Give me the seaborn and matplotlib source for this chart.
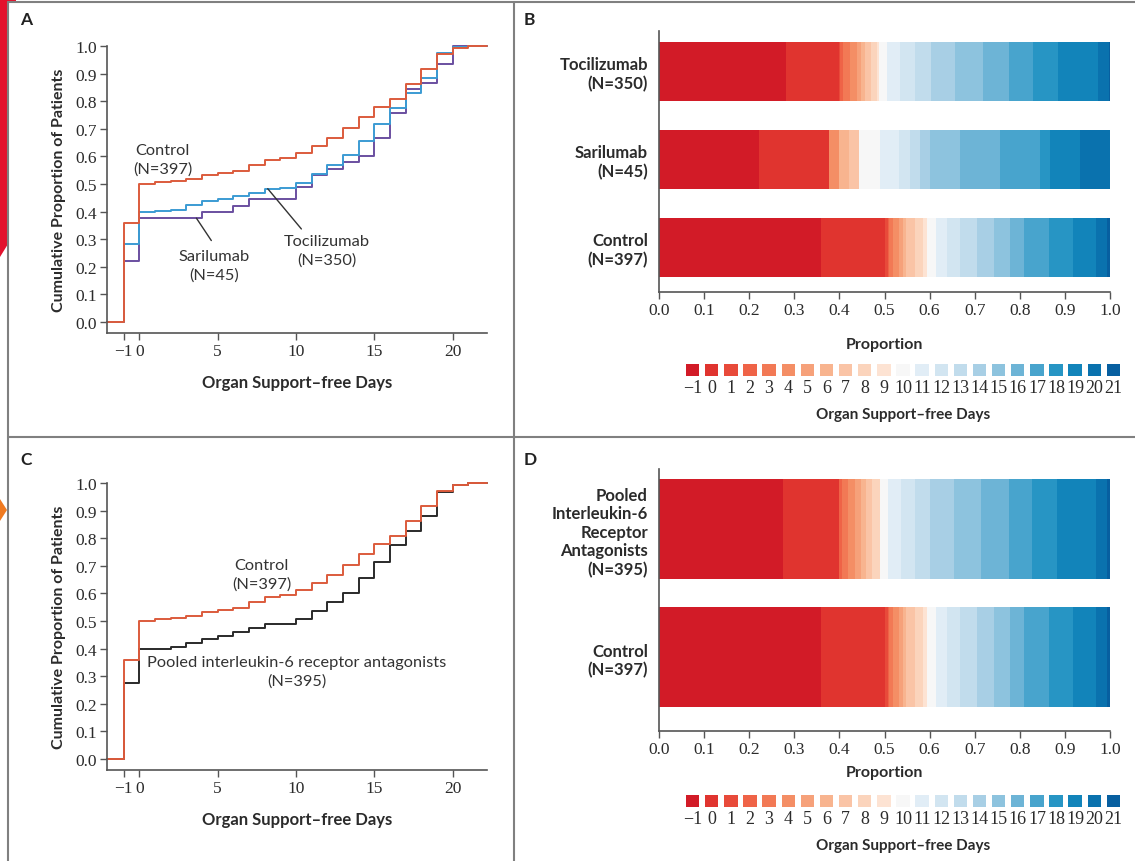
import numpy as np
import pandas as pd
import matplotlib
matplotlib.use("Agg")
import matplotlib.pyplot as plt
import seaborn as sns
from matplotlib.patches import Polygon
from matplotlib.lines import Line2D

# ---------------- data ----------------
days = list(range(-1, 22))
day_labels = ["\u22121"] + [str(d) for d in range(0, 22)]

cum_control = [0.360, 0.501, 0.507, 0.511, 0.518, 0.533, 0.541, 0.547, 0.568, 0.586, 0.595,
               0.614, 0.638, 0.668, 0.704, 0.743, 0.779, 0.809, 0.864, 0.918, 0.970, 0.994, 1.0]
cum_tocilizumab = [0.281, 0.399, 0.401, 0.407, 0.423, 0.438, 0.447, 0.457, 0.469, 0.483, 0.487,
                   0.505, 0.535, 0.568, 0.604, 0.656, 0.719, 0.777, 0.830, 0.885, 0.973, 0.997, 1.0]
cum_sarilumab = [0.222, 0.378, 0.378, 0.378, 0.378, 0.400, 0.400, 0.422, 0.444, 0.444, 0.444,
                 0.489, 0.533, 0.556, 0.578, 0.600, 0.667, 0.756, 0.844, 0.867, 0.933, 1.0, 1.0]
cum_pooled = [0.274, 0.399, 0.400, 0.405, 0.420, 0.435, 0.447, 0.459, 0.473, 0.489, 0.490,
              0.507, 0.537, 0.568, 0.601, 0.655, 0.715, 0.775, 0.827, 0.882, 0.969, 0.993, 1.0]

groups_b = ["Tocilizumab\n(N=350)", "Sarilumab\n(N=45)", "Control\n(N=397)"]
groups_d = ["Pooled\nInterleukin-6\nReceptor\nAntagonists\n(N=395)", "Control\n(N=397)"]

# index 0 -> day -1 ... index 22 -> day 21
day_colors = ["#d21b27", "#e0342f", "#e84a3a", "#ef6347", "#f27955", "#f48e65", "#f6a17a",
              "#f8b48f", "#fac4a6", "#fbd4bc", "#fde3d3", "#f7f7f7", "#e1edf6", "#d2e5f1",
              "#c1dcec", "#a8cfe5", "#8dc3de", "#6db4d6", "#48a4cd", "#2795c4", "#1284ba",
              "#0a72ae", "#075fa0"]

col_control = "#dc5b3c"
col_toci = "#3b9bd3"
col_sari = "#6a4fa0"
col_pooled = "#2a2a2a"

# ---------------- style ----------------
sns.set_theme(style="white")
plt.rcParams["font.family"] = ["Lato", "DejaVu Sans"]
TICKFONT = ["Liberation Serif", "DejaVu Serif"]
TXT = "#2b2b2b"
SPINE = "#555555"

W, H = 1135, 862
fig = plt.figure(figsize=(W / 100, H / 100), dpi=100)
fig.patch.set_facecolor("white")


def px_axes(l, t, r, b):
    return fig.add_axes([l / W, 1 - b / H, (r - l) / W, (b - t) / H])


def style_ticks(ax, size=12.5):
    for lab in ax.get_xticklabels() + ax.get_yticklabels():
        lab.set_fontfamily(TICKFONT)
        lab.set_fontsize(size)
        lab.set_color(TXT)


XLIM = (-2.06, 22.2)


def curve_panel(ax, series, annotations):
    for cum, col in series:
        xs = [XLIM[0]] + days + [XLIM[1]]
        ys = [0.0] + cum + [cum[-1]]
        sns.lineplot(x=xs, y=ys, drawstyle="steps-post", color=col, linewidth=1.4,
                     ax=ax, errorbar=None, clip_on=False)
    ax.set_xlim(*XLIM)
    ax.set_ylim(-0.04, 1.0)
    ax.set_xticks([-1, 0, 5, 10, 15, 20])
    ax.set_xticklabels(["\u22121", "0", "5", "10", "15", "20"])
    ax.set_yticks(np.arange(0, 1.01, 0.1))
    ax.set_yticklabels([f"{v:.1f}" for v in np.arange(0, 1.01, 0.1)])
    for s in ["top", "right"]:
        ax.spines[s].set_visible(False)
    for s in ["left", "bottom"]:
        ax.spines[s].set_color(SPINE)
        ax.spines[s].set_linewidth(1.2)
    ax.tick_params(axis="both", direction="out", length=5, width=1.0, color=SPINE,
                   left=True, bottom=True, pad=2)
    style_ticks(ax)
    ax.set_xlabel("Organ Support\u2013free Days", fontsize=12, fontweight="bold",
                  color=TXT, labelpad=11)
    ax.set_ylabel("Cumulative Proportion of Patients", fontsize=11.5, fontweight="bold",
                  color=TXT, labelpad=7)
    for txt, x, y, line in annotations:
        ax.text(x, y, txt, ha="center", va="center", fontsize=11.8, color="#333333",
                linespacing=1.4)
        if line is not None:
            ax.plot(line[0], line[1], color="#333333", linewidth=1.0)


def bar_panel(ax, groups, cums, bar_h, ylim, xpad):
    for k in range(len(days) - 1, -1, -1):
        df = pd.DataFrame({"group": groups, "cum": [c[k] for c in cums]})
        sns.barplot(data=df, x="cum", y="group", color=day_colors[k], saturation=1,
                    width=bar_h, linewidth=0, ax=ax, orient="y", errorbar=None)
    ax.set_xlim(0, 1)
    ax.set_ylim(*ylim)
    ax.set_xticks(np.arange(0, 1.01, 0.1))
    ax.set_xticklabels([f"{v:.1f}" for v in np.arange(0, 1.01, 0.1)])
    for s in ["top", "right"]:
        ax.spines[s].set_visible(False)
    for s in ["left", "bottom"]:
        ax.spines[s].set_color(SPINE)
        ax.spines[s].set_linewidth(1.2)
    ax.tick_params(axis="x", direction="out", length=5, width=1.0, color=SPINE,
                   bottom=True, pad=2)
    ax.tick_params(axis="y", length=0, pad=8)
    style_ticks(ax)
    for lab in ax.get_yticklabels():
        lab.set_fontfamily(["Lato", "DejaVu Sans"])
        lab.set_fontweight("bold")
        lab.set_fontsize(12)
        lab.set_ha("right")
        lab.set_multialignment("right")
        lab.set_linespacing(1.2)
    ax.set_ylabel("")
    ax.set_xlabel("Proportion", fontsize=11.5, fontweight="bold", color=TXT, labelpad=xpad)


def legend_panel(ax):
    df = pd.DataFrame({"day": day_labels, "v": [1] * len(day_labels)})
    sns.barplot(data=df, x="day", y="v", hue="day", palette=day_colors, legend=False,
                saturation=1, width=0.7, linewidth=0, ax=ax, errorbar=None)
    ax.set_xlim(-0.5, len(day_labels) - 0.5)
    ax.set_ylim(0, 1)
    ax.set_yticks([])
    ax.set_ylabel("")
    for s in ax.spines.values():
        s.set_visible(False)
    ax.tick_params(axis="x", length=0, pad=2)
    for lab in ax.get_xticklabels():
        lab.set_fontfamily(TICKFONT)
        lab.set_fontsize(13)
        lab.set_color(TXT)
    ax.set_xlabel("Organ Support\u2013free Days", fontsize=11, fontweight="bold",
                  color=TXT, labelpad=8)


# ---------------- panel A ----------------
axA = px_axes(107, 47, 487, 334)
curve_panel(axA, [(cum_sarilumab, col_sari), (cum_tocilizumab, col_toci),
                  (cum_control, col_control)],
            [("Control\n(N=397)", 1.5, 0.59, None),
             ("Sarilumab\n(N=45)", 4.8, 0.205, ([4.6, 3.65], [0.295, 0.376])),
             ("Tocilizumab\n(N=350)", 11.95, 0.26, ([10.35, 8.2], [0.337, 0.483]))])

# ---------------- panel C ----------------
axC = px_axes(107, 484, 487, 771)
curve_panel(axC, [(cum_pooled, col_pooled), (cum_control, col_control)],
            [("Control\n(N=397)", 7.8, 0.67, None),
             ("Pooled interleukin-6 receptor antagonists\n(N=395)", 10.05, 0.318, None)])

# ---------------- panel B ----------------
axB = px_axes(659, 32, 1110, 293)
bar_panel(axB, groups_b, [cum_tocilizumab, cum_sarilumab, cum_control], 0.67,
          (2.51, -0.455), 14)

# ---------------- panel D ----------------
axD = px_axes(659, 470, 1110, 732)
bar_panel(axD, groups_d, [cum_pooled, cum_control], 0.78, (1.574, -0.47), 6)

# ---------------- legends ----------------
axLB = px_axes(683, 365, 1123, 377)
legend_panel(axLB)
axLD = px_axes(683, 796, 1123, 808)
legend_panel(axLD)

# ---------------- panel letters & borders ----------------
for letter, x, y in [("A", 20, 20), ("B", 524, 20), ("C", 20, 460), ("D", 524, 460)]:
    fig.text(x / W, 1 - y / H, letter, fontsize=12.5, fontweight="bold", color="#222222",
             ha="left", va="center")

border = "#808080"
for (x0, y0, x1, y1) in [(8, 3, 8, 862), (8, 3, 1135, 3), (514, 3, 514, 862),
                         (8, 438, 1135, 438)]:
    fig.add_artist(Line2D([x0 / W, x1 / W], [1 - y0 / H, 1 - y1 / H],
                          transform=fig.transFigure, color=border, linewidth=1.5))

fig.add_artist(Polygon([(0, 1), (16 / W, 1), (16 / W, 1 - 3 / H), (8 / W, 1 - 3 / H),
                        (8 / W, 1 - 245 / H), (0, 1 - 258 / H)], closed=True,
                       transform=fig.transFigure, facecolor="#e3122d", edgecolor="none"))
fig.add_artist(Polygon([(0, 1 - 500 / H), (7 / W, 1 - 511 / H), (0, 1 - 522 / H)],
                       closed=True, transform=fig.transFigure, facecolor="#f07a20",
                       edgecolor="none"))

fig.savefig("out.png", dpi=100, facecolor="white")
